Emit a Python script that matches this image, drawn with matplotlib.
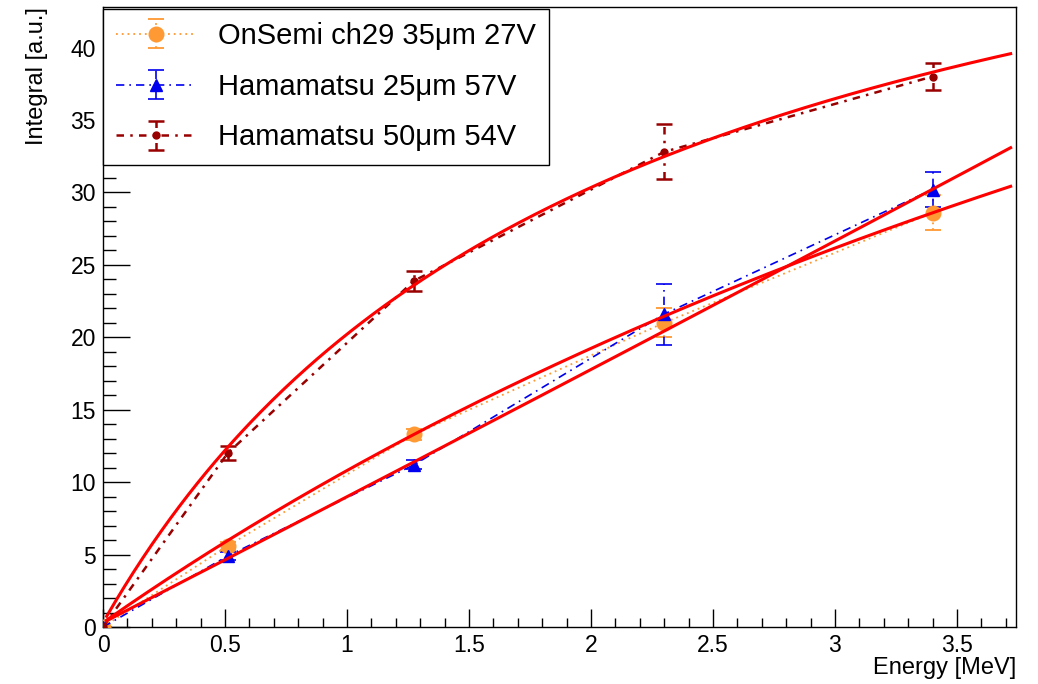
import numpy as np
import matplotlib.pyplot as plt

plt.rcParams['font.family'] = ['Liberation Sans', 'DejaVu Sans']

# Measured points
energy = [0, 0.511, 1.275, 2.3, 3.4]

onsemi = [0, 5.6, 13.3, 21.0, 28.6]
onsemi_err = [0, 0.3, 0.4, 1.0, 1.2]

ham25 = [0, 4.9, 11.2, 21.6, 30.2]
ham25_err = [0, 0.3, 0.3, 2.1, 1.2]

ham50 = [0, 12.0, 23.9, 32.8, 38.0]
ham50_err = [0, 0.5, 0.7, 1.9, 0.95]

labels = ['OnSemi ch29 35\u03bcm 27V', 'Hamamatsu 25\u03bcm 57V', 'Hamamatsu 50\u03bcm 54V']

# Fit parameters, f(E) = a + b*E/(1 + c*E)
fit_a = [0.3, 0.3, 0.3]
fit_b = [11.79, 8.65, 29.53]
fit_c = [0.1226, -0.005, 0.483]
fit_range = (0.015, 3.72)

fig = plt.figure(figsize=(10.38, 6.84), dpi=100)
ax = fig.add_axes([103 / 1038, 57 / 684, 913 / 1038, 620 / 684])

styles = [
    dict(color='#ff9933', marker='o', ms=10.5, ls=(0, (1, 2.2)), lw=1.3),
    dict(color='#0000ee', marker='^', ms=9, ls=(0, (5, 3, 1, 3)), lw=1.2),
    dict(color='#990000', marker='o', ms=5, ls=(0, (3, 2.5, 1, 2.5)), lw=1.8),
]
series = [(onsemi, onsemi_err), (ham25, ham25_err), (ham50, ham50_err)]

handles = []
for (vals, errs), st, lab in zip(series, styles, labels):
    h = ax.errorbar(energy, vals, yerr=errs, color=st['color'], marker=st['marker'],
                    ms=st['ms'], mec=st['color'], ls=st['ls'], lw=st['lw'],
                    elinewidth=st['lw'], capsize=6, capthick=st['lw'], label=lab, zorder=3)
    for b in h[2]:
        b.set_linestyle(st['ls'])
    handles.append(h)

# Fit curves
xf = np.linspace(fit_range[0], fit_range[1], 400)
for a, b, c in zip(fit_a, fit_b, fit_c):
    ax.plot(xf, a + b * xf / (1 + c * xf), color='red', lw=2.2, zorder=4)

ax.set_xlim(0, 3.742)
ax.set_ylim(0, 42.8)
ax.set_xticks(np.arange(0, 3.6, 0.5))
ax.set_xticks(np.arange(0, 3.75, 0.1), minor=True)
ax.set_yticks(np.arange(0, 41, 5))
ax.set_yticks(np.arange(0, 43, 1), minor=True)
ax.set_xticklabels(['0', '0.5', '1', '1.5', '2', '2.5', '3', '3.5'])
ax.tick_params(axis='both', which='both', direction='in', labelsize=16.5, width=1.0)
ax.tick_params(axis='x', which='major', length=13, pad=5)
ax.tick_params(axis='x', which='minor', length=6.5)
ax.tick_params(axis='y', which='major', length=19.5, pad=5)
ax.tick_params(axis='y', which='minor', length=9.7)
for s in ax.spines.values():
    s.set_linewidth(1.0)

ax.set_xlabel('Energy [MeV]', fontsize=17, ha='right', va='center')
ax.xaxis.set_label_coords(1.0, -0.066)
ax.set_ylabel('Integral [a.u.]', fontsize=17, loc='top')
ax.yaxis.set_label_coords(-0.06, 1.0)

leg = ax.legend(handles=handles, labels=labels, loc='upper left', bbox_to_anchor=(0, 0.997),
                fontsize=21, frameon=True, fancybox=False, edgecolor='black', framealpha=1,
                borderpad=0.45, handlelength=2.75, handletextpad=0.75, labelspacing=0.78,
                borderaxespad=0)
leg.get_frame().set_linewidth(1.0)
leg.set_zorder(10)

fig.savefig('out.png', dpi=100)
